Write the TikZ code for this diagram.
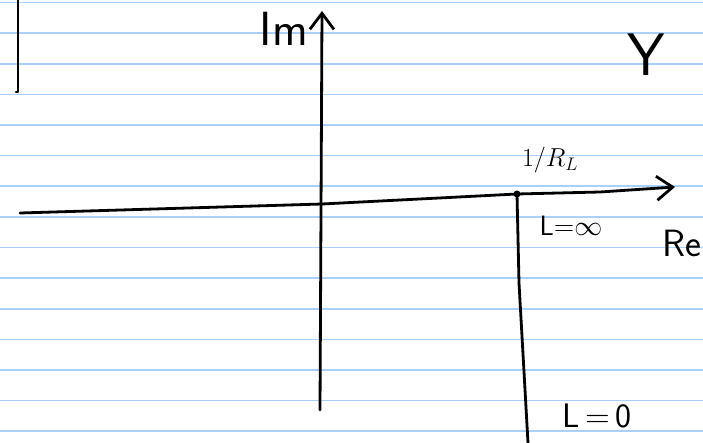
\RequirePackage{fix-cm}
\documentclass[tikz,border=0pt]{standalone}
\usepackage{fontspec}
\usetikzlibrary{arrows.meta}
\definecolor{paperblue}{RGB}{170,208,248}

\begin{document}
\begin{tikzpicture}[
    x=1pt, y=-1pt,
    ink/.style={line width=2.8pt, line cap=round, line join=round},
    axis/.style={ink, -{Straight Barb[length=16pt,width=24pt]}},
    rule/.style={draw=paperblue, line width=1.6pt},
    dot/.style={circle, fill, inner sep=0pt, minimum size=7pt},
    hand/.style={font=\sffamily, inner sep=0pt}
    ]

    \fill[white] (0,0) rectangle (703,443);
    \useasboundingbox (0,0) rectangle (703,443);

    % ruled paper
    \foreach \k in {0,...,14}
        \draw[rule] (0,2.7+30.6*\k) -- (703,2.7+30.6*\k);

    \coordinate (mark) at (18,0);
    \coordinate (markEnd) at (18,92);
    \coordinate (imBot) at (320,410);
    \coordinate (imTop) at (322,11);
    \coordinate (reLeft) at (20,213);
    \coordinate (reRight) at (675,187);
    \coordinate (lineEnd) at (528,443);
    \node[dot] (rl) at (517,194) {};

    \draw[ink] (mark) -- (markEnd) -- ++(-2,0);
    \draw[axis] (imBot) -- (imTop);
    \draw[axis] (reLeft) -- (322,204) -- (rl.center) -- (600,192) -- (reRight);
    \draw[ink] (rl.center) -- (519,283) -- (lineEnd);

    \node[hand, font=\sffamily\fontsize{48}{48}\selectfont] (im) at (284,29) {Im};
    \node[hand, font=\sffamily\fontsize{60}{60}\selectfont] (y) at (646,55) {Y};
    \node[hand, font=\fontsize{26}{26}\selectfont] (rlLabel) at (550,160) {$1/R_L$};
    \node[hand, font=\sffamily\fontsize{28}{28}\selectfont] (lInf) at (571,226) {L=$\infty$};
    \node[hand, font=\sffamily\fontsize{38}{38}\selectfont, anchor=east] (re) at (702,243) {Re};
    \node[hand, font=\sffamily\fontsize{34}{34}\selectfont] (lZero) at (597,416) {L\,=\,0};

\end{tikzpicture}
\end{document}
